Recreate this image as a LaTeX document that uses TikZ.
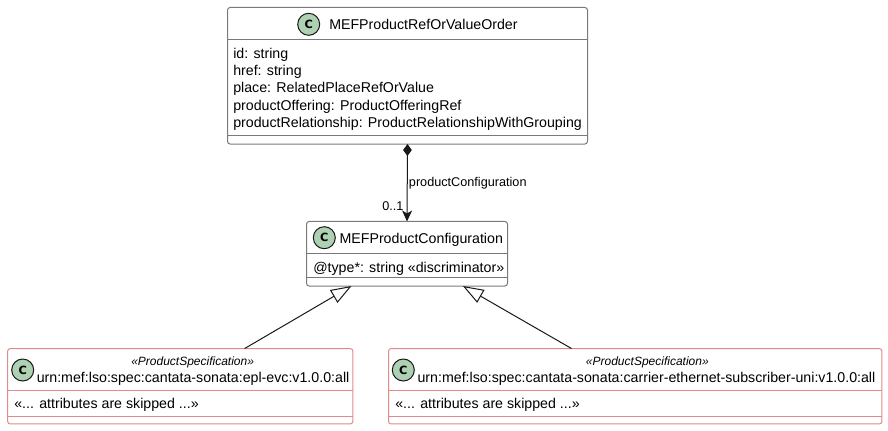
\documentclass[tikz,border=0pt]{standalone}
\usepackage{fontspec}
\setmainfont{Liberation Sans}
\newfontfamily\spotfont{DejaVu Sans}
\usetikzlibrary{arrows.meta}
\definecolor{edgecol}{HTML}{181818}
\definecolor{boxcol}{HTML}{7A7A7A}
\definecolor{speccol}{HTML}{E08A8A}
\definecolor{spotcol}{HTML}{ADD1B2}
\tikzset{
  classbox/.style={draw=boxcol, line width=0.75pt, rounded corners=2pt, fill=white, inner sep=0pt, outer sep=0pt},
  specbox/.style={classbox, draw=speccol},
  spot/.style={circle, draw=edgecol, line width=0.75pt, fill=spotcol, minimum size=16.5pt, inner sep=0pt, font=\fontsize{8.5}{10}\spotfont\bfseries},
  txt/.style={anchor=base west, inner sep=0pt, font=\fontsize{10.65}{12}\selectfont},
  smalltxt/.style={anchor=base west, inner sep=0pt, font=\fontsize{9.5}{11}\selectfont},
  stereo/.style={anchor=base west, inner sep=0pt, font=\fontsize{9}{11}\selectfont\itshape},
  link/.style={draw=edgecol, line width=0.75pt},
  gentip/.style={-{Triangle[open, length=15.5pt, width=11pt, fill=white]}}
}
\begin{document}
\begin{tikzpicture}[x=0.75pt, y=-0.75pt]

 \useasboundingbox (0,0) rectangle (888,430);

 % top class
 \node (order) at (407.5, 75.75)[classbox, minimum width=270pt, minimum height=102.4pt]{};
 \draw[boxcol, line width=0.75pt] (227.5, 39.5) -- (587.5, 39.5);
 \draw[boxcol, line width=0.75pt] (227.5, 135.5) -- (587.5, 135.5);
 \node (orderspot) at (308.7, 24.3)[spot]{C};
 \node (ordertitle) at (329, 29)[txt]{MEFProductRefOrValueOrder};
 \node (orderid) at (233, 58)[txt]{id: string};
 \node (orderhref) at (233, 75.3)[txt]{href: string};
 \node (orderplace) at (233, 92.6)[txt]{place: RelatedPlaceRefOrValue};
 \node (orderoffer) at (233, 110)[txt]{productOffering: ProductOfferingRef};
 \node (orderrel) at (233, 127)[txt]{productRelationship: ProductRelationshipWithGrouping};

 % middle class
 \node (config) at (407, 253.75)[classbox, minimum width=150.75pt, minimum height=48.4pt]{};
 \draw[boxcol, line width=0.75pt] (306.5, 253.5) -- (507.5, 253.5);
 \draw[boxcol, line width=0.75pt] (306.5, 277) -- (507.5, 277);
 \node (configspot) at (324.3, 237.7)[spot]{C};
 \node (configtitle) at (339.3, 243.3)[txt]{MEFProductConfiguration};
 \node (configtype) at (313, 272.7)[txt]{@type*: string «discriminator»};

 % left spec
 \node (speca) at (180.25, 386.25)[specbox, minimum width=258.9pt, minimum height=56.6pt]{};
 \draw[speccol, line width=0.75pt] (7.5, 390.5) -- (353, 390.5);
 \draw[speccol, line width=0.75pt] (7.5, 416) -- (353, 416);
 \node (specaspot) at (22.7, 370)[spot]{C};
 \node (specastereo) at (131, 365)[stereo]{«ProductSpecification»};
 \node (specatitle) at (36.5, 382.7)[txt]{urn:mef:lso:spec:cantata-sonata:epl-evc:v1.0.0:all};
 \node (specaattr) at (14, 408)[txt]{«... attributes are skipped ...»};

 % right spec
 \node (specb) at (635.25, 386.25)[specbox, minimum width=370.1pt, minimum height=56.6pt]{};
 \draw[speccol, line width=0.75pt] (388.5, 390.5) -- (882, 390.5);
 \draw[speccol, line width=0.75pt] (388.5, 416) -- (882, 416);
 \node (specbspot) at (403.3, 370)[spot]{C};
 \node (specbstereo) at (585.7, 365)[stereo]{«ProductSpecification»};
 \node (specbtitle) at (417.3, 382.7)[txt]{urn:mef:lso:spec:cantata-sonata:carrier-ethernet-subscriber-uni:v1.0.0:all};
 \node (specbattr) at (395, 408)[txt]{«... attributes are skipped ...»};

 % connectors
 \draw[link, {Diamond[length=9pt, width=6.5pt]}-{Stealth[length=8.25pt, width=7.5pt, inset=2.25pt]}] (order.south) -- (config.north);
 \draw[link, gentip] ([xshift=177.75pt]speca.north west) -- ([xshift=33.75pt]config.south west);
 \draw[link, gentip] ([xshift=137.25pt]specb.north west) -- ([xshift=-33.4pt]config.south east);

 \node (linklabel) at (408.7, 186.7)[smalltxt]{productConfiguration};
 \node (linkcard) at (382, 210)[smalltxt]{0..1};

\end{tikzpicture}
\end{document}
